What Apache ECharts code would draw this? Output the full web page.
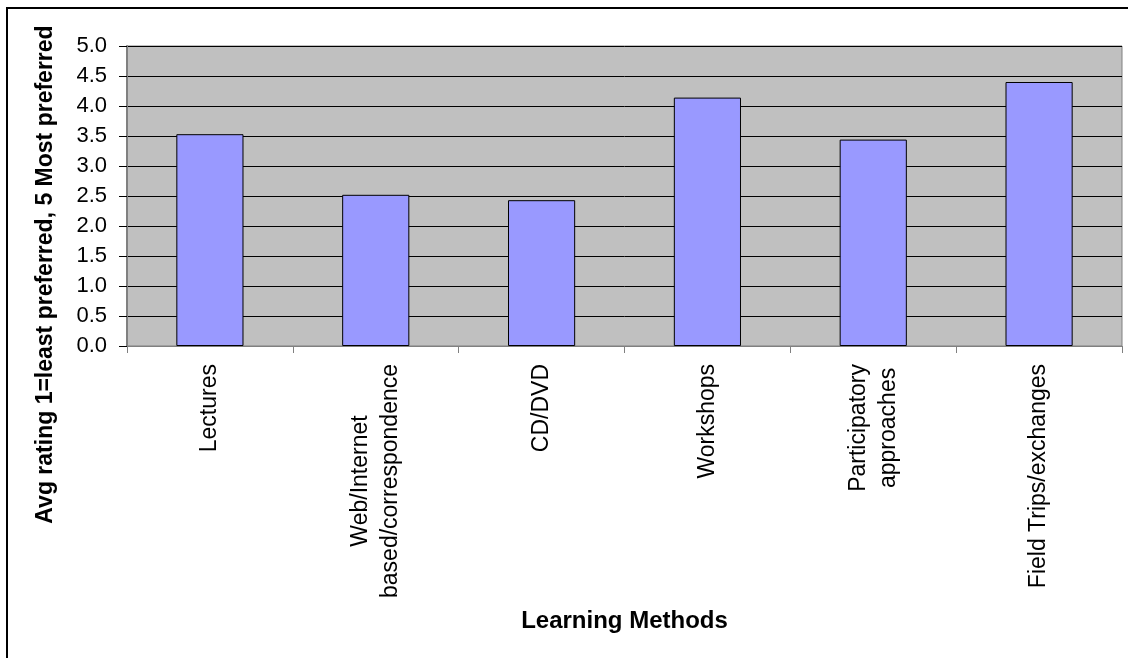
<!DOCTYPE html>
<html>
<head>
<meta charset="utf-8">
<script src="https://cdn.jsdelivr.net/npm/echarts@6/dist/echarts.min.js"></script>
<style>
html,body{margin:0;padding:0;background:#fff;}
#chart{width:1128px;height:658px;}
</style>
</head>
<body>
<div id="chart"></div>
<script>
var categories = ['Lectures', 'Web/Internet\nbased/correspondence', 'CD/DVD', 'Workshops', 'Participatory\napproaches', 'Field Trips/exchanges'];
var avgRating = [3.53, 2.52, 2.43, 4.14, 3.44, 4.40];
var yTicks = { min: 0, max: 5, interval: 0.5 };
var xTitle = 'Learning Methods';
var yTitle = 'Avg rating 1=least preferred, 5 Most preferred';

var FONT = 'Arial, "Liberation Sans", sans-serif';
var chart = echarts.init(document.getElementById('chart'));
chart.setOption({
  animation: false,
  backgroundColor: '#ffffff',
  graphic: [{
    type: 'rect',
    shape: { x: 7, y: 8, width: 1140, height: 680 },
    style: { fill: 'none', stroke: '#000', lineWidth: 2 },
    z: -1
  }],
  grid: {
    left: 127, top: 46, right: 6, bottom: 312,
    show: true, backgroundColor: '#C0C0C0', borderColor: '#808080', borderWidth: 1
  },
  xAxis: {
    type: 'category',
    data: categories,
    boundaryGap: true,
    name: xTitle,
    nameLocation: 'middle',
    nameGap: 263,
    nameTextStyle: { fontFamily: FONT, fontWeight: 'bold', fontSize: 24, color: '#000' },
    axisLine: { show: true, lineStyle: { color: '#808080', width: 1 } },
    axisTick: { show: true, length: 7, lineStyle: { color: '#808080' } },
    axisLabel: {
      rotate: 90, margin: 18, interval: 0,
      fontFamily: FONT, fontSize: 23, color: '#000',
      formatter: function (v) {
        return v.split('\n').map(function (s) { return '{c|' + s + '}'; }).join('\n');
      },
      rich: { c: { align: 'center', fontFamily: FONT, fontSize: 23, color: '#000', lineHeight: 30 } }
    }
  },
  yAxis: {
    type: 'value',
    min: yTicks.min, max: yTicks.max, interval: yTicks.interval,
    name: yTitle,
    nameLocation: 'middle',
    nameGap: 70,
    nameTextStyle: { fontFamily: FONT, fontWeight: 'bold', fontSize: 23, color: '#000', padding: [0, 157, 0, 0] },
    axisLine: { show: true, lineStyle: { color: '#808080', width: 2 } },
    axisTick: { show: true, length: 8, lineStyle: { color: '#000' } },
    axisLabel: {
      margin: 20, fontFamily: FONT, fontSize: 22, color: '#000',
      formatter: function (v) { return v.toFixed(1); }
    },
    splitLine: { show: true, lineStyle: { color: '#000', width: 1 } }
  },
  series: [{
    type: 'bar',
    data: avgRating,
    barWidth: '40.5%',
    itemStyle: { color: '#9999FF', borderColor: '#000', borderWidth: 1 }
  }]
});
</script>
</body>
</html>
